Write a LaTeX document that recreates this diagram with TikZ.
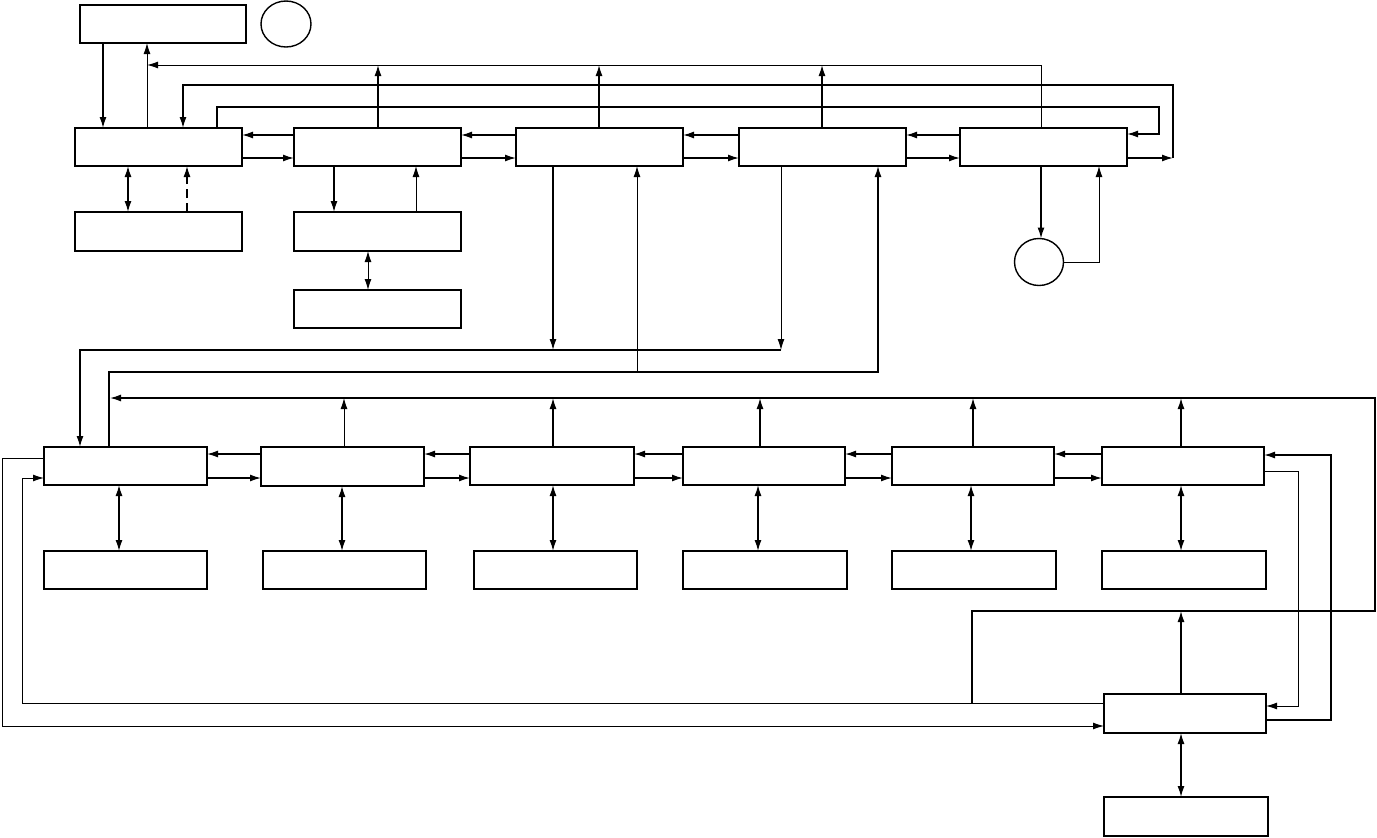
\documentclass[tikz,border=0pt]{standalone}
\usetikzlibrary{arrows.meta,shapes.geometric}
\begin{document}
\begin{tikzpicture}[x=1pt,y=-1pt,
  box/.style={draw, line width=1.4pt, rectangle, inner sep=0pt, outer sep=0pt, anchor=north west},
  oval/.style={draw, line width=1.4pt, ellipse, inner sep=0pt, outer sep=0pt},
  tk/.style={line width=1.4pt},
  tn/.style={line width=1pt},
  ar/.style={-{Latex[length=11pt,width=7pt]}},
  dar/.style={{Latex[length=11pt,width=7pt]}-{Latex[length=11pt,width=7pt]}}]
\useasboundingbox (0,0) rectangle (1377,838);
% top section
\node[box, minimum width=166pt, minimum height=38pt] (T0) at (80,5) {};
\node[oval, minimum width=50pt, minimum height=46pt] (C1) at (286,24) {};
\node[box, minimum width=167pt, minimum height=38pt] (A1) at (75,128) {};
\node[box, minimum width=167pt, minimum height=38pt] (A2) at (294,128) {};
\node[box, minimum width=167pt, minimum height=38pt] (A3) at (516,128) {};
\node[box, minimum width=167pt, minimum height=38pt] (A4) at (739,128) {};
\node[box, minimum width=167pt, minimum height=38pt] (A5) at (960,128) {};
\node[box, minimum width=167pt, minimum height=39pt] (B1) at (75,212) {};
\node[box, minimum width=167pt, minimum height=39pt] (B2) at (294,212) {};
\node[box, minimum width=167pt, minimum height=38pt] (B3) at (294,290) {};
\node[oval, minimum width=49pt, minimum height=47pt] (C2) at (1039,262) {};
% lower section
\node[box, minimum width=163pt, minimum height=38pt] (L1) at (44,447) {};
\node[box, minimum width=163pt, minimum height=39pt] (L2) at (261,447) {};
\node[box, minimum width=164pt, minimum height=38pt] (L3) at (470,447) {};
\node[box, minimum width=162pt, minimum height=38pt] (L4) at (683,447) {};
\node[box, minimum width=162pt, minimum height=38pt] (L5) at (892,447) {};
\node[box, minimum width=162pt, minimum height=38pt] (L6) at (1102,447) {};
\node[box, minimum width=163pt, minimum height=38pt] (D1) at (44,551) {};
\node[box, minimum width=163pt, minimum height=38pt] (D2) at (263,551) {};
\node[box, minimum width=163pt, minimum height=38pt] (D3) at (474,551) {};
\node[box, minimum width=164pt, minimum height=38pt] (D4) at (683,551) {};
\node[box, minimum width=164pt, minimum height=38pt] (D5) at (892,551) {};
\node[box, minimum width=164pt, minimum height=38pt] (D6) at (1102,551) {};
\node[box, minimum width=162pt, minimum height=39pt] (M) at (1104,694) {};
\node[box, minimum width=164pt, minimum height=39pt] (N) at (1104,797) {};
% T0 <-> A1
\draw[tk,ar] (103,0 |- T0.south) -- (103,0 |- A1.north);
\draw[tn,ar] (147,0 |- A1.north) -- (147,0 |- T0.south);
% bus at y=65
\draw[tn,ar] (1041,0 |- A5.north) -- (1041,65) -- (147,65);
\draw[tk,ar] (378,0 |- A2.north) -- (378,65);
\draw[tk,ar] (599,0 |- A3.north) -- (599,65);
\draw[tk,ar] (822,0 |- A4.north) -- (822,65);
% A5 -> A1 via y=85
\draw[tk,ar] (A5.east |- 0,158) -- (1173,158);
\draw[tk,ar] (1173,158) -- (1173,85) -- (183,85) -- (183,0 |- A1.north);
% A1 -> A5 via y=107
\draw[tk,ar] (217,0 |- A1.north) -- (217,107) -- (1159,107) -- (1159,134) -- (A5.east |- 0,134);
% row 1 horizontals
\foreach \a/\b in {A1/A2,A2/A3,A3/A4,A4/A5}{
  \draw[tk,ar] (\b.west |- 0,135) -- (\a.east |- 0,135);
  \draw[tk,ar] (\a.east |- 0,158) -- (\b.west |- 0,158);
}
% below A1, A2
\draw[tk,dar] (128,0 |- A1.south) -- (128,0 |- B1.north);
\draw[tk,ar,dash pattern=on 9pt off 5pt] (187,0 |- B1.north) -- (187,0 |- A1.south);
\draw[tk,ar] (334,0 |- A2.south) -- (334,0 |- B2.north);
\draw[tn,ar] (416,0 |- B2.north) -- (416,0 |- A2.south);
\draw[tn,dar] (368,0 |- B2.south) -- (368,0 |- B3.north);
% A5 <-> C2
\draw[tk,ar] (1041,0 |- A5.south) -- (1041,0 |- C2.north);
\draw[tn,ar] (C2.east) -- (1099,0 |- C2.east) -- (1099,0 |- A5.south);
% A3, A4 -> L1
\draw[tk,ar] (553,0 |- A3.south) -- (553,350);
\draw[tn,ar] (781,0 |- A4.south) -- (781,350);
\draw[tk,ar] (781,350) -- (80,350) -- (80,0 |- L1.north);
% L1 -> A3, A4
\draw[tk,ar] (109,0 |- L1.north) -- (109,372) -- (878,372) -- (878,0 |- A4.south);
\draw[tn,ar] (637,372) -- (637,0 |- A3.south);
% bottom loops
\draw[tn,ar] (M.west |- 0,703) -- (22,703) -- (22,478) -- (L1.west |- 0,478);
\draw[tk,ar] (972,703) -- (972,611) -- (1375,611) -- (1375,398) -- (110,398);
\draw[tn,ar] (L1.west |- 0,458) -- (2,458) -- (2,726) -- (M.west |- 0,726);
\draw[tn,ar] (L6.east |- 0,471) -- (1298,471) -- (1298,706) -- (M.east |- 0,706);
\draw[tk,ar] (M.east |- 0,720) -- (1331,720) -- (1331,455) -- (L6.east |- 0,455);
% row 2 up arrows
\draw[tn,ar] (344,0 |- L2.north) -- (344,398);
\draw[tk,ar] (553,0 |- L3.north) -- (553,398);
\draw[tk,ar] (760,0 |- L4.north) -- (760,398);
\draw[tk,ar] (973,0 |- L5.north) -- (973,398);
\draw[tk,ar] (1181,0 |- L6.north) -- (1181,398);
\draw[tk,ar] (1181,0 |- M.north) -- (1181,611);
% row 2 horizontals
\foreach \a/\b in {L1/L2,L2/L3,L3/L4,L4/L5,L5/L6}{
  \draw[tk,ar] (\b.west |- 0,454) -- (\a.east |- 0,454);
  \draw[tk,ar] (\a.east |- 0,478) -- (\b.west |- 0,478);
}
% row 2 double arrows
\draw[tk,dar] (119,0 |- L1.south) -- (119,0 |- D1.north);
\draw[tk,dar] (342,0 |- L2.south) -- (342,0 |- D2.north);
\draw[tk,dar] (553,0 |- L3.south) -- (553,0 |- D3.north);
\draw[tk,dar] (758,0 |- L4.south) -- (758,0 |- D4.north);
\draw[tk,dar] (971,0 |- L5.south) -- (971,0 |- D5.north);
\draw[tk,dar] (1181,0 |- L6.south) -- (1181,0 |- D6.north);
\draw[tk,dar] (1181,0 |- M.south) -- (1181,0 |- N.north);
\end{tikzpicture}
\end{document}
